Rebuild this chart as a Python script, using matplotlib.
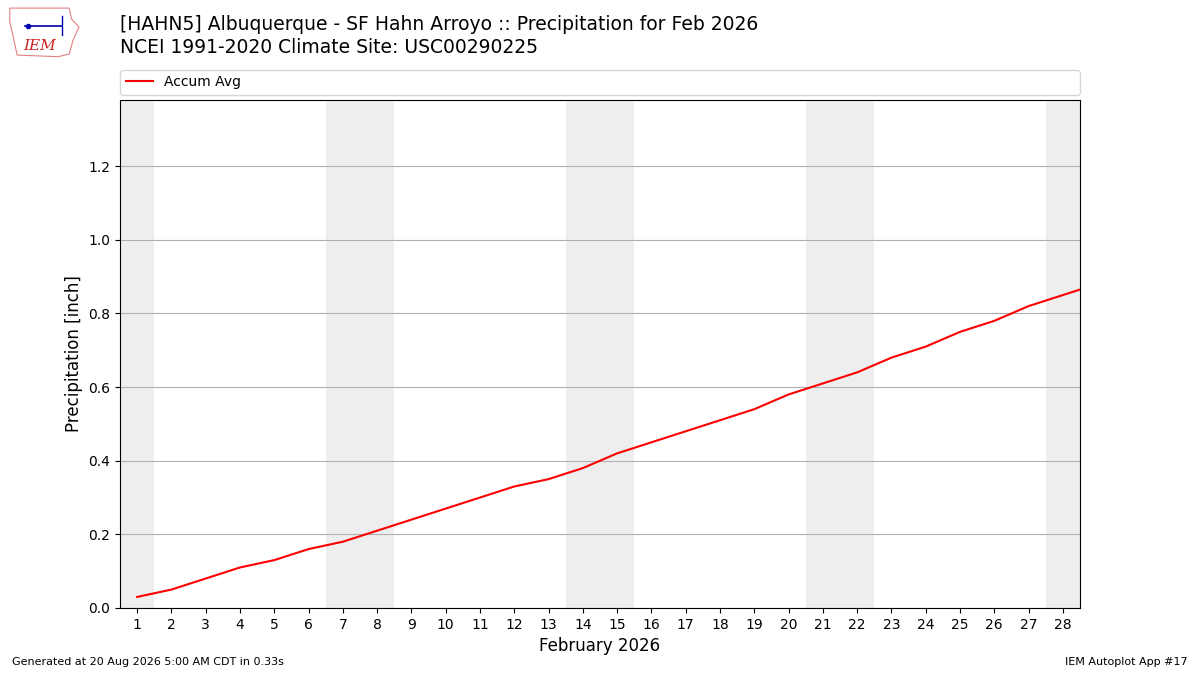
import numpy as np
import matplotlib.pyplot as plt
from matplotlib.patches import Polygon

days = [1, 2, 3, 4, 5, 6, 7, 8, 9, 10, 11, 12, 13, 14, 15, 16, 17, 18, 19, 20,
        21, 22, 23, 24, 25, 26, 27, 28, 29]
accum_avg = [0.03, 0.05, 0.08, 0.11, 0.13, 0.16, 0.18, 0.21, 0.24, 0.27, 0.30,
             0.33, 0.35, 0.38, 0.42, 0.45, 0.48, 0.51, 0.54, 0.58, 0.61, 0.64,
             0.68, 0.71, 0.75, 0.78, 0.82, 0.85, 0.88]
weekend_days = [1, 7, 8, 14, 15, 21, 22, 28]

fig = plt.figure(figsize=(12, 6.75), dpi=100)
ax = fig.add_axes([0.1, 0.0993, 0.8, 0.7526])

# weekend shading
for d in weekend_days:
    ax.axvspan(d - 0.5, d + 0.5, color='#eeeeee', zorder=0, lw=0)

ax.plot(days, accum_avg, color='red', lw=1.5, label='Accum Avg', zorder=3)

ax.set_xlim(0.5, 28.5)
ax.set_ylim(0, 1.38)
ax.set_xticks(range(1, 29))
ax.set_yticks(np.arange(0, 1.3, 0.2))
ax.set_yticklabels([f"{v:.1f}" for v in np.arange(0, 1.3, 0.2)])
ax.grid(axis='y', color='#b0b0b0', lw=0.8)
ax.set_axisbelow(True)
ax.set_xlabel("February 2026", fontsize=12)
ax.set_ylabel("Precipitation [inch]", fontsize=12)

ax.legend(loc='lower left', bbox_to_anchor=(0, 1.01, 1, 0.05), mode='expand',
          ncol=1, fontsize=10, borderaxespad=0, frameon=True)

fig.text(0.1, 0.963, "[HAHN5] Albuquerque - SF Hahn Arroyo :: Precipitation for Feb 2026",
         fontsize=13.5, va='center')
fig.text(0.1, 0.930, "NCEI 1991-2020 Climate Site: USC00290225",
         fontsize=13.5, va='center')

fig.text(0.01, 0.015, "Generated at 20 Aug 2026 5:00 AM CDT in 0.33s", fontsize=8)
fig.text(0.99, 0.015, "IEM Autoplot App #17", fontsize=8, ha='right')

# rough IEM logo
lax = fig.add_axes([0.005, 0.912, 0.062, 0.08])
lax.set_xlim(0, 1)
lax.set_ylim(0, 1)
lax.axis('off')
outline = [(0.05, 0.95), (0.85, 0.95), (0.88, 0.75), (0.98, 0.6), (0.9, 0.35),
           (0.85, 0.1), (0.7, 0.05), (0.15, 0.08), (0.1, 0.4), (0.05, 0.7)]
lax.add_patch(Polygon(outline, closed=True, fill=False, ec='#e08080', lw=0.8))
lax.plot([0.25, 0.75], [0.62, 0.62], color='#0000aa', lw=1.2)
lax.plot([0.75, 0.75], [0.45, 0.8], color='#0000aa', lw=1)
lax.plot([0.3], [0.62], 'o', color='#0000aa', ms=3)
lax.text(0.45, 0.25, "IEM", color='#cc2222', fontsize=11, style='italic',
         family='serif', ha='center', va='center')

fig.savefig("out.png")
